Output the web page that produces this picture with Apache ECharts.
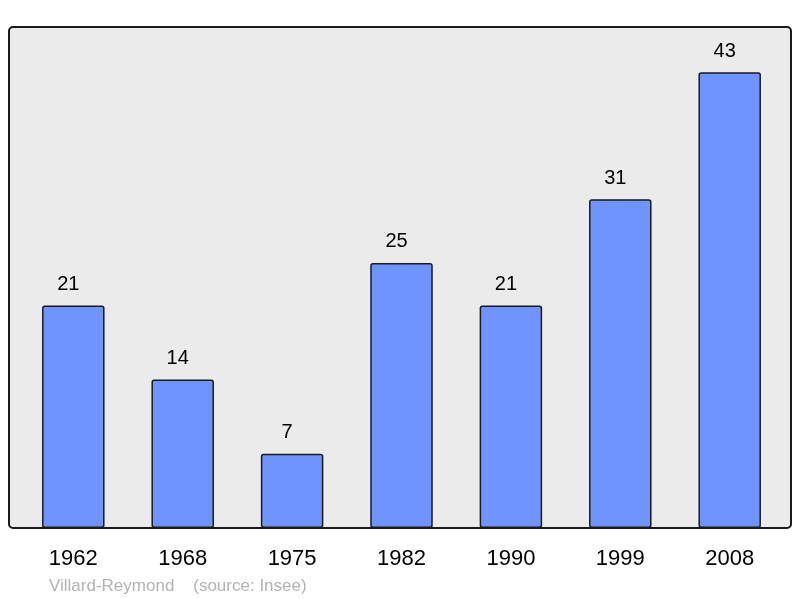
<!DOCTYPE html>
<html><head><meta charset="utf-8">
<script src="https://cdn.jsdelivr.net/npm/echarts@6/dist/echarts.min.js"></script>
<style>html,body{margin:0;padding:0;background:#fff}#c{width:800px;height:598px}</style>
</head><body><div id="c"></div>
<script>
const years = ['1962','1968','1975','1982','1990','1999','2008'];
const population = [21, 14, 7, 25, 21, 31, 43];
const caption = 'Villard-Reymond    (source: Insee)';

const chart = echarts.init(document.getElementById('c'), null, {renderer:'canvas'});
chart.setOption({
  animation: false,
  backgroundColor: '#ffffff',
  textStyle: {fontFamily: '"Liberation Sans", Arial, sans-serif'},
  graphic: [{
    type: 'rect', z: 0,
    shape: {x: 9, y: 27, width: 782, height: 501, r: 4},
    style: {fill: '#ebebeb', stroke: '#1a1a1a', lineWidth: 2}
  }],
  title: {
    text: caption, left: 44, top: 573,
    textStyle: {fontSize: 17, fontWeight: 'normal', color: '#b3b3b3', fontFamily: '"Liberation Sans", Arial, sans-serif'}
  },
  grid: {left: 18.6, width: 765.8, top: 27, height: 501},
  xAxis: {
    type: 'category', data: years, boundaryGap: true,
    axisLine: {show: false}, axisTick: {show: false},
    axisLabel: {fontSize: 22, color: '#000', margin: 20}
  },
  yAxis: {
    type: 'value', min: 0, max: 47.26,
    show: false, splitLine: {show: false}
  },
  series: [{
    type: 'bar', data: population, barWidth: 62.5, z: 2,
    itemStyle: {color: '#7094ff', borderColor: '#1a1a1a', borderWidth: 1.5, borderRadius: 2},
    label: {show: true, position: 'top', distance: 11, offset: [-5, 0], fontSize: 20, color: '#000'}
  }]
});
</script></body></html>
